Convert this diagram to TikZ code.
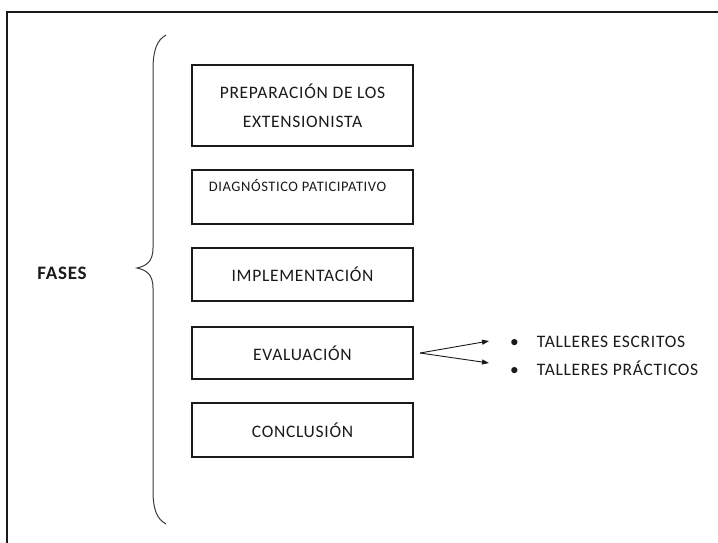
\documentclass[tikz,border=0pt]{standalone}
\usepackage{fontspec}
\setmainfont{Carlito}
\newfontfamily\widefont[LetterSpace=4]{Carlito}
\usetikzlibrary{arrows.meta, positioning}
\definecolor{inkdark}{HTML}{1A1A1A}
\definecolor{bracegray}{HTML}{3A3A3A}

\begin{document}
\begin{tikzpicture}[x=1pt, y=-1pt,
  >={Triangle[length=7pt, width=5pt]},
  phasebox/.style={draw=inkdark, line width=1.3pt, fill=white,
    minimum width=221pt, minimum height=#1, inner sep=0pt,
    font=\widefont\fontsize{17.5}{29}\selectfont, text=inkdark, align=center},
  itemtext/.style={anchor=west, font=\widefont\fontsize{17.5}{20}\selectfont, text=inkdark,
    inner sep=0pt},
  arr/.style={->, line width=0.9pt, inkdark},
]

\useasboundingbox (0,0) rectangle (718,543);

% Frame (only its top and left sides are shown)
\draw[inkdark, line width=1.3pt] (7,543) -- (7,12) -- (718,12);

% Title of the brace
\node[font=\widefont\fontsize{19}{22}\selectfont\bfseries, text=inkdark] (fases) at (62,273) {FASES};

% =============================================
% Brace
% =============================================
\draw[bracegray, line width=1pt]
  (166,35) .. controls (157,40) and (153,50) .. (153,70)
  -- (153,248) .. controls (153,262) and (146,266) .. (137,268)
  .. controls (146,270) and (153,274) .. (153,288)
  -- (153,490) .. controls (153,510) and (157,519) .. (166,524);

% =============================================
% Phases
% =============================================
\node[phasebox=81pt] (prep) at (302.5,105.5) {PREPARACIÓN DE LOS\\EXTENSIONISTA};
\node[phasebox=54pt, font=\widefont\fontsize{14.5}{18}\selectfont] (diag) at (302.5,197)
  {DIAGNÓSTICO PATICIPATIVO\hspace*{10pt}\\ \strut};
\node[phasebox=53pt] (impl) at (302.5,274.5) {IMPLEMENTACIÓN};
\node[phasebox=52pt] (eval) at (302.5,353) {EVALUACIÓN};
\node[phasebox=54pt] (concl) at (302.5,430) {CONCLUSIÓN};

% =============================================
% Evaluation items
% =============================================
\coordinate (fork) at (420,353);
\node[itemtext] (escritos) at (510,342) {•\hspace{18pt}TALLERES ESCRITOS};
\node[itemtext] (practicos) at (510,368) {•\hspace{18pt}TALLERES PRÁCTICOS};

\draw[arr] (fork) -- ([xshift=-21pt, yshift=1pt]escritos.west);
\draw[arr] (fork) -- ([xshift=-21pt, yshift=5pt]practicos.west);

\end{tikzpicture}
\end{document}
